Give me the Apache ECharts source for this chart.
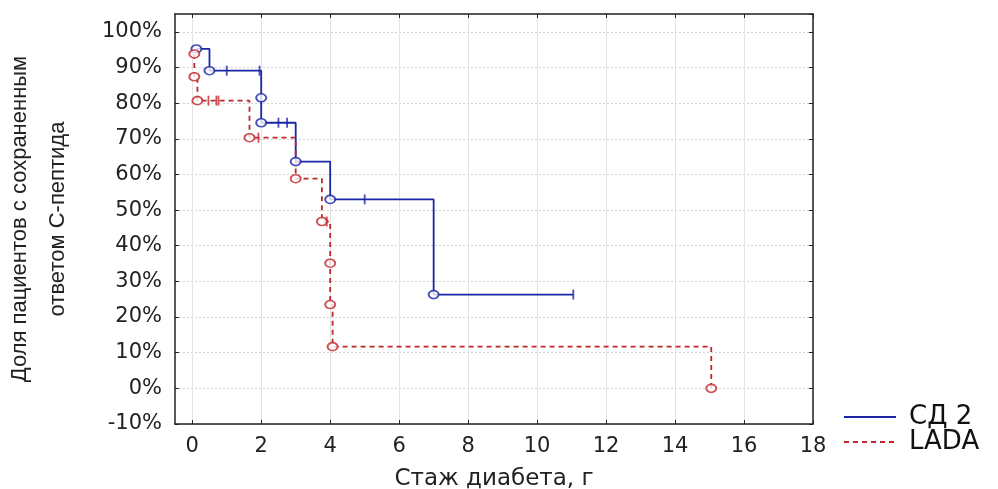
<!DOCTYPE html>
<html>
<head>
<meta charset="utf-8">
<script src="https://cdn.jsdelivr.net/npm/echarts@6/dist/echarts.min.js"></script>
<style>
  html, body { margin: 0; padding: 0; background: #fff; }
  #chart { width: 998px; height: 489px; }
</style>
</head>
<body>
<div id="chart"></div>
<script>
// СД 2: моменты событий (годы) и доля после события
const sd2Times = [0.12, 0.5, 2.0, 2.0, 3.0, 4.0, 7.0];
const sd2Values = [0.952, 0.891, 0.815, 0.745, 0.636, 0.53, 0.263];
const sd2Censored = [1.0, 1.95, 2.5, 2.75, 5.0, 11.05];
const sd2End = 11.05;

// LADA
const ladaTimes = [0.06, 0.06, 0.15, 1.66, 3.0, 3.76, 4.0, 4.0, 4.07, 15.05];
const ladaValues = [0.938, 0.874, 0.807, 0.703, 0.588, 0.468, 0.351, 0.235, 0.117, 0];
const ladaCensored = [0.47, 0.7, 0.76, 1.92, 3.9];
const ladaEnd = 15.05;

const xTicks = [0, 2, 4, 6, 8, 10, 12, 14, 16, 18];
const seriesNames = ['СД 2', 'LADA'];

const blue = '#1a25a8';
const red = '#c0262b';

// ступенчатая линия из событий
function stepPath(times, values, end) {
  const pts = [[times[0], values[0]]];
  for (let i = 1; i < times.length; i++) {
    pts.push([times[i], values[i - 1]]);
    pts.push([times[i], values[i]]);
  }
  const last = pts[pts.length - 1];
  if (end > last[0]) pts.push([end, last[1]]);
  return pts;
}

// значение кривой в момент t
function valueAt(times, values, t) {
  let v = values[0];
  for (let i = 0; i < times.length; i++) {
    if (times[i] <= t) v = values[i];
  }
  return v;
}

function events(times, values) {
  return times.map((t, i) => [t, values[i]]);
}

function censored(list, times, values) {
  return list.map(t => [t, valueAt(times, values, t)]);
}

const labelFont = 'DejaVu Sans';

const myEchart = echarts.init(document.getElementById('chart'));
myEchart.setOption({
  animation: false,
  grid: { left: 175, right: 185, top: 14, bottom: 65, outerBoundsMode: 'none', containLabel: false },
  legend: {
    data: seriesNames,
    orient: 'vertical',
    left: 838,
    top: 399,
    itemWidth: 52,
    itemHeight: 14,
    itemGap: -1,
    itemStyle: { opacity: 0 },
    textStyle: { fontFamily: labelFont, fontSize: 26, color: '#111', lineHeight: 25, padding: [0, 0, 0, 8] }
  },
  xAxis: [
    {
      type: 'value',
      min: -0.5,
      max: 18,
      name: 'Стаж диабета, г',
      nameLocation: 'middle',
      nameGap: 44,
      nameTextStyle: { fontFamily: labelFont, fontSize: 23, color: '#222' },
      axisLine: { onZero: false, lineStyle: { color: '#222', width: 1.5 } },
      axisTick: { inside: true, length: 4, customValues: xTicks, lineStyle: { color: '#222' } },
      axisLabel: { customValues: xTicks, margin: 12, fontFamily: labelFont, fontSize: 21, color: '#222' },
      splitLine: { show: true, customValues: xTicks, lineStyle: { color: '#e2e2e2', width: 1 } }
    },
    {
      type: 'value',
      position: 'top',
      min: -0.5,
      max: 18,
      axisLine: { onZero: false, lineStyle: { color: '#222', width: 1.5 } },
      axisTick: { inside: true, length: 4, customValues: xTicks, lineStyle: { color: '#222' } },
      axisLabel: { show: false },
      splitLine: { show: false }
    }
  ],
  yAxis: [
    {
      type: 'value',
      min: -0.1,
      max: 1.05,
      interval: 0.1,
      name: 'Доля пациентов с сохраненным\nответом С-пептида',
      nameLocation: 'middle',
      nameRotate: 90,
      nameGap: 98,
      nameTextStyle: { fontFamily: 'Liberation Sans', fontSize: 22, color: '#222', lineHeight: 38 },
      axisLine: { show: true, onZero: false, lineStyle: { color: '#222', width: 1.5 } },
      axisTick: { inside: true, length: 4, lineStyle: { color: '#222' } },
      axisLabel: {
        margin: 13,
        showMaxLabel: false,
        fontFamily: labelFont,
        fontSize: 21,
        color: '#222',
        formatter: v => Math.round(v * 100) + '%'
      },
      splitLine: { show: true, lineStyle: { color: '#d2d2d2', type: [2, 2], width: 1 } }
    },
    {
      type: 'value',
      position: 'right',
      min: -0.1,
      max: 1.05,
      interval: 0.1,
      axisLine: { show: true, onZero: false, lineStyle: { color: '#222', width: 1.5 } },
      axisTick: { inside: true, length: 4, lineStyle: { color: '#222' } },
      axisLabel: { show: false },
      splitLine: { show: false }
    }
  ],
  series: [
    {
      name: seriesNames[0],
      type: 'line',
      symbol: 'none',
      data: stepPath(sd2Times, sd2Values, sd2End),
      lineStyle: { color: blue, width: 1.8 },
      itemStyle: { color: blue },
      z: 3
    },
    {
      name: seriesNames[1],
      type: 'line',
      symbol: 'none',
      data: stepPath(ladaTimes, ladaValues, ladaEnd),
      lineStyle: { color: red, width: 1.8, type: [5, 4] },
      itemStyle: { color: red },
      z: 3
    },
    {
      name: 'sd2-events',
      type: 'scatter',
      symbol: 'circle',
      symbolSize: [10, 8],
      data: events(sd2Times, sd2Values),
      itemStyle: { color: '#fff', borderColor: blue, borderWidth: 1.8 },
      z: 5
    },
    {
      name: 'lada-events',
      type: 'scatter',
      symbol: 'circle',
      symbolSize: [10, 8],
      data: events(ladaTimes, ladaValues),
      itemStyle: { color: '#fff', borderColor: red, borderWidth: 1.8 },
      z: 5
    },
    {
      name: 'sd2-censored',
      type: 'scatter',
      symbol: 'rect',
      symbolSize: [1.8, 10],
      data: censored(sd2Censored, sd2Times, sd2Values),
      itemStyle: { color: blue },
      z: 4
    },
    {
      name: 'lada-censored',
      type: 'scatter',
      symbol: 'rect',
      symbolSize: [1.8, 10],
      data: censored(ladaCensored, ladaTimes, ladaValues),
      itemStyle: { color: red },
      z: 4
    }
  ]
});
</script>
</body>
</html>
